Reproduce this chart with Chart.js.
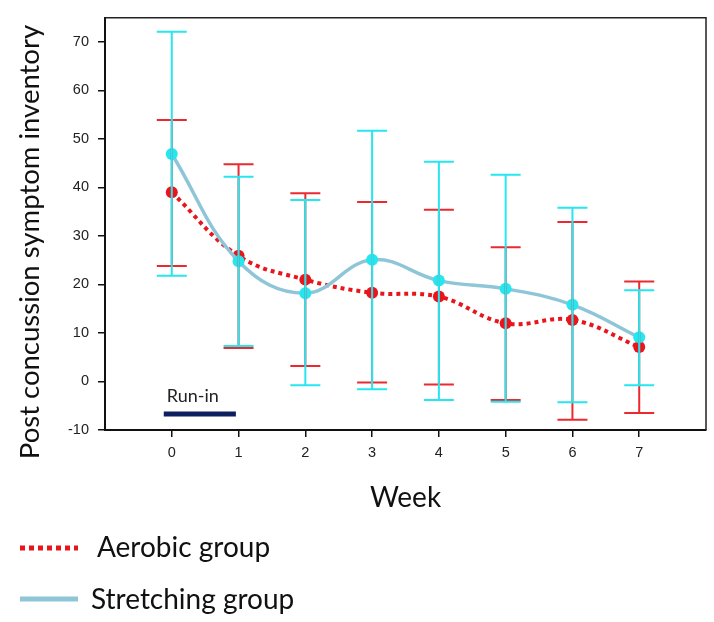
<!DOCTYPE html>
<html>
<head>
<meta charset="utf-8">
<script src="https://cdn.jsdelivr.net/npm/chart.js@4.4.0/dist/chart.umd.min.js"></script>
<style>
  html, body { margin: 0; padding: 0; background: #fff; }
  #wrap { width: 714px; height: 622px; }
</style>
</head>
<body>
<div id="wrap"><canvas id="chart" width="714" height="622"></canvas></div>
<script>
const weeks = [0, 1, 2, 3, 4, 5, 6, 7];
const aerobicMean  = [39.0, 25.9, 21.0, 18.3, 17.5, 12.0, 12.7, 7.1];
const aerobicUpper = [53.9, 44.8, 38.8, 37.0, 35.4, 27.7, 32.9, 20.6];
const aerobicLower = [23.8, 6.9, 3.2, -0.2, -0.6, -3.8, -7.9, -6.5];
const stretchMean  = [46.9, 24.8, 18.2, 25.1, 20.8, 19.1, 15.8, 9.1];
const stretchUpper = [72.1, 42.2, 37.4, 51.7, 45.3, 42.6, 35.8, 18.8];
const stretchLower = [21.8, 7.3, -0.8, -1.6, -3.8, -4.2, -4.3, -0.8];
const yTicks = [-10, 0, 10, 20, 30, 40, 50, 60, 70];
const runInWeeks = [-0.12, 0.96];
const runInLevel = -6.7;

const RED = '#e8161c';
const RED_BAR = '#ea2a2f';
const CYAN = '#26e6f0';
const STEEL = '#8ec6d8';
const TEXT_FONT = 'Lato, "Open Sans", sans-serif';

function pts(vals) {
  return weeks.map((w, i) => ({ x: w, y: vals[i] }));
}

// error bars, the plot box, the run-in label, y title and legend
const extras = {
  id: 'extras',
  beforeDatasetsDraw(chart) {
    const { ctx, chartArea: a } = chart;
    ctx.save();
    ctx.strokeStyle = '#222';
    ctx.lineWidth = 1.5;
    ctx.beginPath();
    ctx.moveTo(a.left, a.top);
    ctx.lineTo(a.right, a.top);
    ctx.lineTo(a.right, a.bottom);
    ctx.stroke();
    ctx.restore();
  },
  afterDatasetsDraw(chart) {
    const { ctx, scales: { x, y } } = chart;
    const groups = [
      [aerobicUpper, aerobicLower, RED_BAR],
      [stretchUpper, stretchLower, CYAN]
    ];
    ctx.save();
    ctx.lineWidth = 2;
    groups.forEach(([up, lo, col]) => {
      ctx.strokeStyle = col;
      weeks.forEach((w, i) => {
        const px = x.getPixelForValue(w);
        const pu = y.getPixelForValue(up[i]);
        const pl = y.getPixelForValue(lo[i]);
        ctx.beginPath();
        ctx.moveTo(px, pu); ctx.lineTo(px, pl);
        ctx.moveTo(px - 15, pu); ctx.lineTo(px + 15, pu);
        ctx.moveTo(px - 15, pl); ctx.lineTo(px + 15, pl);
        ctx.stroke();
      });
    });

    // run-in label
    ctx.fillStyle = '#222';
    ctx.font = '18px ' + TEXT_FONT;
    ctx.textAlign = 'left';
    ctx.textBaseline = 'alphabetic';
    ctx.fillText('Run-in', x.getPixelForValue(runInWeeks[0]) + 3, y.getPixelForValue(runInLevel) - 12);
    ctx.restore();
  },
  afterDraw(chart) {
    const { ctx } = chart;
    ctx.save();
    // y axis title
    ctx.fillStyle = '#111';
    ctx.font = '27.5px ' + TEXT_FONT;
    ctx.translate(30, 242);
    ctx.rotate(-Math.PI / 2);
    ctx.textAlign = 'center';
    ctx.textBaseline = 'middle';
    ctx.fillText('Post concussion symptom inventory', 0, 0);
    ctx.restore();

    // legend
    const ds = chart.data.datasets;
    const rows = [
      { d: ds[1], y: 548, tx: 97, base: 557, dash: [5, 4] },
      { d: ds[0], y: 599, tx: 91, base: 609, dash: [] }
    ];
    ctx.save();
    rows.forEach(r => {
      ctx.strokeStyle = r.d.borderColor;
      ctx.lineWidth = 5;
      ctx.setLineDash(r.dash);
      ctx.beginPath();
      ctx.moveTo(20, r.y);
      ctx.lineTo(78, r.y);
      ctx.stroke();
      ctx.setLineDash([]);
      ctx.fillStyle = '#111';
      ctx.font = '28px ' + TEXT_FONT;
      ctx.textAlign = 'left';
      ctx.textBaseline = 'alphabetic';
      ctx.fillText(r.d.label, r.tx, r.base);
    });
    ctx.restore();
  }
};

function draw() {
  new Chart(document.getElementById('chart'), {
    type: 'line',
    data: {
      datasets: [
        {
          label: 'Stretching group',
          data: pts(stretchMean),
          borderColor: STEEL,
          borderWidth: 3.5,
          tension: 0.4,
          pointRadius: 6,
          pointBackgroundColor: CYAN,
          pointBorderWidth: 0,
          order: 0
        },
        {
          label: 'Aerobic group',
          data: pts(aerobicMean),
          borderColor: RED,
          borderWidth: 4,
          borderDash: [4, 4],
          tension: 0.4,
          pointRadius: 6,
          pointBackgroundColor: RED,
          pointBorderWidth: 0,
          order: 1
        },
        {
          label: 'Run-in',
          data: runInWeeks.map(w => ({ x: w, y: runInLevel })),
          borderColor: '#0c1f5e',
          borderWidth: 5,
          pointRadius: 0,
          tension: 0,
          order: 2
        }
      ]
    },
    options: {
      responsive: false,
      animation: false,
      layout: { padding: { left: 0, right: 8, top: 10, bottom: 107 } },
      plugins: { legend: { display: false }, tooltip: { enabled: false } },
      scales: {
        x: {
          type: 'linear',
          min: -1,
          max: 8,
          afterBuildTicks: s => { s.ticks = weeks.map(v => ({ value: v })); },
          afterFit: s => { s.height = 85; },
          grid: { drawOnChartArea: false, tickLength: 7, color: '#111', lineWidth: 1.5 },
          border: { color: '#111', width: 2 },
          ticks: { color: '#222', padding: 7, font: { family: '"Liberation Sans", Arial, sans-serif', size: 14.5 } },
          title: {
            display: true,
            text: 'Week',
            color: '#111',
            padding: { top: 0, bottom: 0 },
            font: { family: TEXT_FONT, size: 28, lineHeight: 1.2 }
          }
        },
        y: {
          type: 'linear',
          min: -10,
          max: 75,
          afterBuildTicks: s => { s.ticks = yTicks.map(v => ({ value: v })); },
          afterFit: s => { s.width = 105; },
          grid: { drawOnChartArea: false, tickLength: 7, color: '#111', lineWidth: 1.5 },
          border: { color: '#111', width: 2 },
          ticks: { color: '#222', padding: 9, font: { family: '"Liberation Sans", Arial, sans-serif', size: 14.5 } }
        }
      }
    },
    plugins: [extras]
  });
}

Promise.all([
  document.fonts.load('28px Lato'),
  document.fonts.load('14px "Liberation Sans"')
]).then(draw, draw);
</script>
</body>
</html>
